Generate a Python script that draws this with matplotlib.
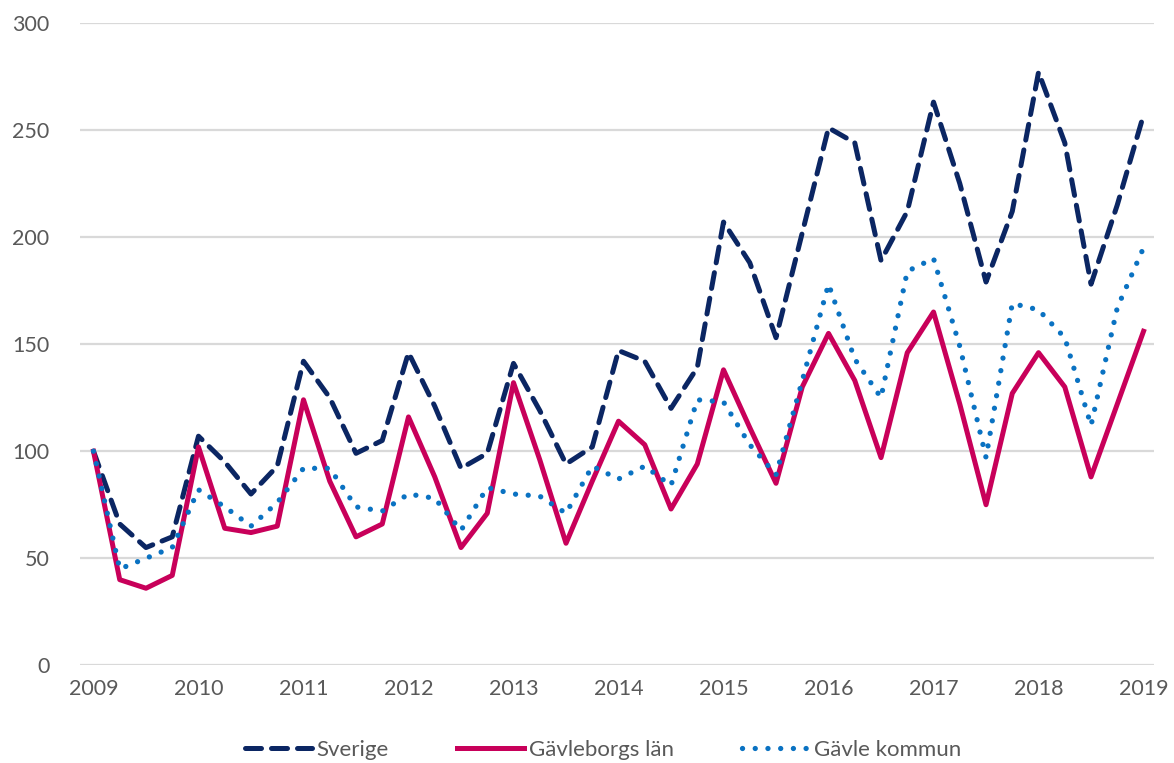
import matplotlib.pyplot as plt
import numpy as np

# Kvartalsdata 2009 Q1 - 2019 Q1, index (2009 = 100)
sverige = [100, 66, 55, 60, 107, 95, 80, 93, 142, 125, 99, 105, 146, 121, 92, 99,
           141, 119, 94, 102, 147, 142, 120, 139, 207, 188, 153, 202, 251, 244,
           189, 212, 263, 225, 179, 212, 277, 244, 178, 215, 257]
gavleborg = [100, 40, 36, 42, 102, 64, 62, 65, 124, 86, 60, 66, 116, 88, 55, 71,
             132, 96, 57, 86, 114, 103, 73, 94, 138, 111, 85, 130, 155, 133,
             97, 146, 165, 122, 75, 127, 146, 130, 88, 122, 156]
gavle = [100, 45, 50, 55, 82, 74, 65, 76, 92, 92, 74, 72, 80, 78, 63, 83,
         80, 79, 71, 93, 87, 93, 84, 124, 123, 103, 89, 133, 178, 143,
         125, 184, 190, 149, 97, 169, 166, 153, 112, 167, 195]
quarters = 2009 + np.arange(len(sverige)) / 4
year_ticks = list(range(2009, 2020))

plt.rcParams['font.family'] = ['Lato', 'DejaVu Sans']

fig = plt.figure(figsize=(11.74, 7.63), dpi=100)
ax = fig.add_axes([0.068, 0.128, 0.915, 0.842])

ax.plot(quarters, sverige, color='#0b2663', lw=3.6, dashes=(3.2, 2.0),
        dash_capstyle='round', label='Sverige')
ax.plot(quarters, gavleborg, color='#c8005a', lw=3.6, label='Gävleborgs län')
ax.plot(quarters, gavle, color='#0a72c2', lw=3.8, dashes=(0.01, 2.4),
        dash_capstyle='round', label='Gävle kommun')

ax.set_xlim(2008.87, 2019.1)
ax.set_ylim(0, 300)
ax.set_yticks(range(0, 301, 50))
ax.set_xticks(year_ticks)
ax.grid(axis='y', color='#d9d9d9', lw=1.6)
ax.set_axisbelow(True)
for s in ax.spines.values():
    s.set_visible(False)
ax.tick_params(length=0, labelsize=15.5, colors='#595959')
ax.tick_params(axis='y', pad=22)
ax.tick_params(axis='x', pad=10)

ax.legend(loc='upper center', bbox_to_anchor=(0.487, -0.085), ncol=3, frameon=False,
          fontsize=16, labelcolor='#595959', handlelength=3.0, handletextpad=0.2,
          columnspacing=3.1)

fig.savefig('out.png', dpi=100)
